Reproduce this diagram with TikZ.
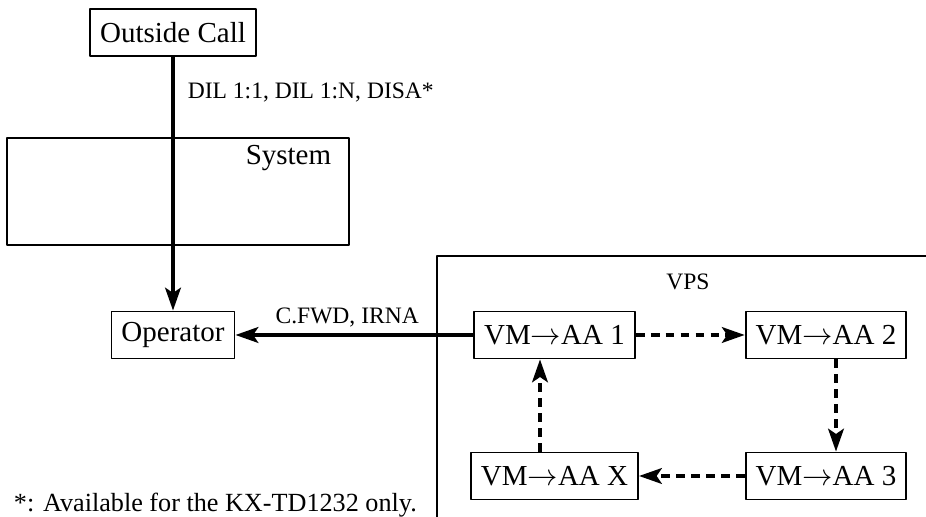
\documentclass[tikz,border=0pt]{standalone}
\usepackage{fontspec}
\setmainfont{Liberation Serif}
\usetikzlibrary{arrows.meta}
\begin{document}
\begin{tikzpicture}[line join=round,>={Stealth[length=13pt,width=9pt,inset=3pt]},line width=1.1pt]
	\tikzset{box/.style={draw,minimum height=0.94cm,inner xsep=0.2cm,font=\fontsize{16.5}{20}\selectfont},
		lbl/.style={font=\fontsize{13.4}{16}\selectfont},
		flow/.style={->,line width=2pt},
		dflow/.style={->,line width=1.8pt,dash pattern=on 5pt off 3.5pt}}
	\useasboundingbox (0,0) rectangle (18.52,10.34);
	\draw (0.14,5.44) rectangle (6.98,7.58);
	\node[anchor=east,font=\fontsize{16.5}{20}\selectfont] (sys) at (6.76,7.17) {System};
	\draw (8.74,-0.2) |- (18.8,5.22);
	\node[lbl] (vps) at (13.76,4.70) {VPS};
	\node[box] (call) at (3.46,9.69) {Outside Call};
	\node[box] (op) at (3.46,3.64) {Operator};
	\node[box] (vm1) at (11.09,3.64) {VM$\rightarrow$AA 1};
	\node[box] (vm2) at (16.52,3.64) {VM$\rightarrow$AA 2};
	\node[box] (vm3) at (16.52,0.82) {VM$\rightarrow$AA 3};
	\node[box] (vmx) at (11.09,0.82) {VM$\rightarrow$AA X};
	\node[lbl,anchor=west] (dil) at (3.62,8.48) {DIL 1:1, DIL 1:N, DISA*};
	\draw[flow] (call) -- (op);
	\draw[flow] (vm1) -- node[lbl,above,pos=0.53] {C.FWD, IRNA} (op);
	\draw[dflow] (vm1) -- (vm2);
	\draw[dflow] ([xshift=0.2cm]vm2.south) -- ([xshift=0.2cm]vm3.north);
	\draw[dflow] (vm3) -- (vmx);
	\draw[dflow] ([xshift=-0.29cm]vmx.north) -- ([xshift=-0.29cm]vm1.south);
	\node[font=\fontsize{14.9}{18}\selectfont,anchor=base west,inner sep=0pt] (note) at (0.26,0.10) {*: Available for the KX-TD1232 only.};
\end{tikzpicture}
\end{document}
